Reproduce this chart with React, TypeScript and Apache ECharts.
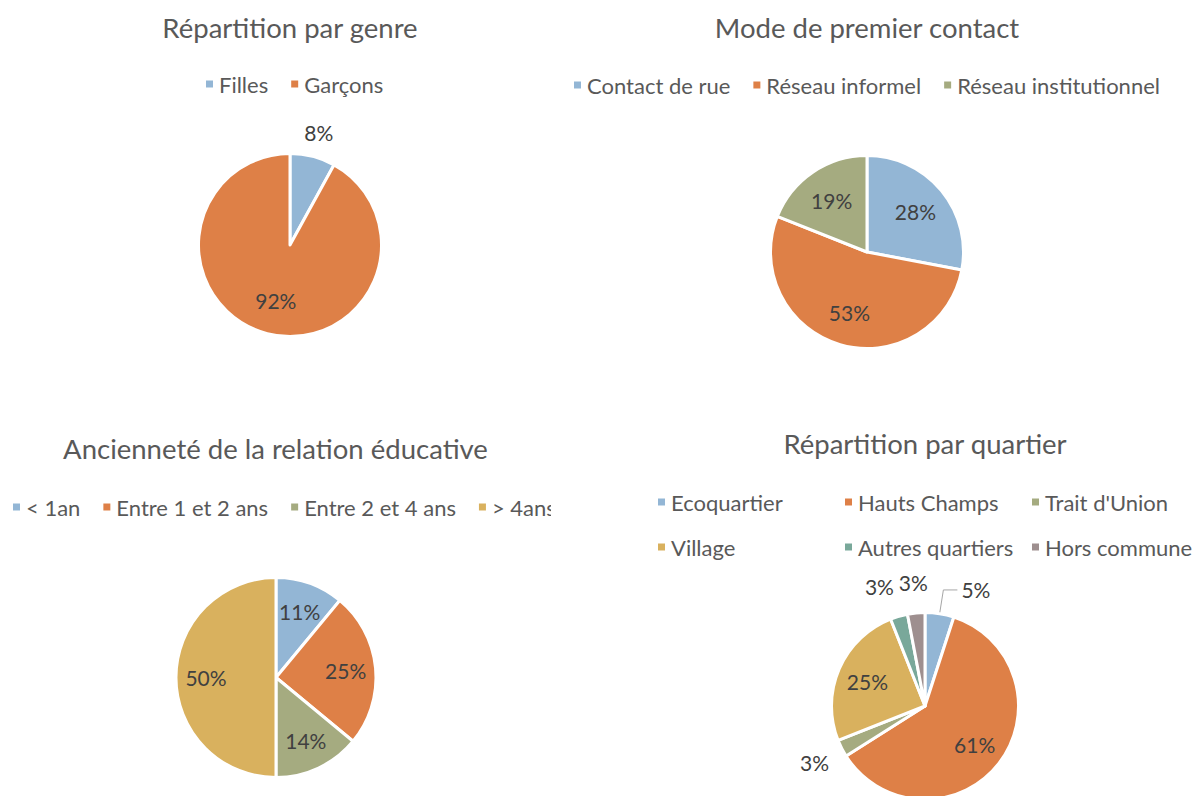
import React, { useEffect, useRef } from 'react';
import * as echarts from 'echarts';

// ---------- data ----------
const genreCategories = ['Filles', 'Garçons'];
const genreValues = [8, 92];
const genrePlacement = ['outside', 'inside'];

const contactCategories = ['Contact de rue', 'Réseau informel', 'Réseau institutionnel'];
const contactValues = [28, 53, 19];
const contactPlacement = ['inside', 'inside', 'inside'];

const ancienneteCategories = ['< 1an', 'Entre 1 et 2 ans', 'Entre 2 et 4 ans', '> 4ans'];
const ancienneteValues = [11, 25, 14, 50];
const anciennetePlacement = ['inside', 'inside', 'inside', 'inside'];

const quartierCategories = ['Ecoquartier', 'Hauts Champs', "Trait d'Union", 'Village', 'Autres quartiers', 'Hors commune'];
const quartierValues = [5, 61, 3, 25, 3, 3];
const quartierPlacement = ['leader', 'inside', 'outside', 'inside', 'outside', 'outside'];
// style: extra right padding on some outside labels (keeps neighbouring labels apart)
const quartierLabelPadRight = [0, 0, 0, 0, 22, 0];

const palette = ['#93B6D5', '#DE8047', '#A5AB80', '#D9B15E', '#79A89A', '#9E8F8F'];

const FONT = 'Lato, "Open Sans", sans-serif';
const TITLE_SIZE = 27.5;
const LEGEND_SIZE = 22;
const LABEL_SIZE = 21;

type Cfg = {
  title: string;
  titleY: number;
  categories: string[];
  values: number[];
  placement: string[];
  padRight?: number[];
  center: [number, number];
  r: number;
  innerK: number;
  outerDist: number;
  legend: any;
};

function buildOption(cfg: Cfg) {
  const { title, titleY, categories, values, placement, padRight, center, r, innerK, outerDist, legend } = cfg;
  const fmt = (p: any) => Math.round(p.percent) + '%';
  const labelFont = { fontFamily: FONT, fontSize: LABEL_SIZE, color: '#404040' };
  const base = {
    type: 'pie',
    center,
    startAngle: 90,
    clockwise: true,
    avoidLabelOverlap: false,
    silent: true,
    emphasis: { disabled: true },
  };
  const main = {
    ...base,
    radius: r + 1.5,
    itemStyle: { borderColor: '#ffffff', borderWidth: 3 },
    label: { show: false, ...labelFont, formatter: fmt, position: 'outside', distanceToLabelLine: 4 },
    labelLine: { show: false, length: 24, length2: 14, lineStyle: { color: '#A6A6A6', width: 1 } },
    data: categories.map((name, i) => ({
      name,
      value: values[i],
      itemStyle: { color: palette[i] },
      ...(placement[i] === 'leader' ? { label: { show: true }, labelLine: { show: true } } : {}),
    })),
  };
  const inner = {
    ...base,
    radius: [(2 * innerK - 1) * r, r],
    itemStyle: { color: 'rgba(0,0,0,0)', borderWidth: 0 },
    label: { show: false, ...labelFont, formatter: fmt, position: 'inside', rotate: 0 },
    labelLine: { show: false },
    data: categories.map((name, i) => ({
      name,
      value: values[i],
      label: { show: placement[i] === 'inside' },
    })),
  };
  const outer = {
    ...base,
    radius: [r, 2 * outerDist - r],
    itemStyle: { color: 'rgba(0,0,0,0)', borderWidth: 0 },
    label: { show: false, ...labelFont, formatter: fmt, position: 'inside', rotate: 0 },
    labelLine: { show: false },
    data: categories.map((name, i) => ({
      name,
      value: values[i],
      label: {
        show: placement[i] === 'outside',
        padding: [0, padRight ? padRight[i] : 0, 0, 0],
      },
    })),
  };
  return {
    animation: false,
    backgroundColor: 'transparent',
    title: {
      text: title,
      left: 'center',
      top: titleY - 16,
      padding: 0,
      textStyle: { fontFamily: FONT, fontSize: TITLE_SIZE, fontWeight: 'normal', color: '#595959', lineHeight: 32 },
    },
    legend: {
      data: categories,
      orient: 'horizontal',
      icon: 'rect',
      itemWidth: 9,
      itemHeight: 9,
      padding: 0,
      selectedMode: false,
      ...legend,
      textStyle: { fontFamily: FONT, fontSize: LEGEND_SIZE, color: '#595959', ...(legend.textStyle || {}) },
    },
    series: [main, inner, outer],
  };
}

const opt1 = buildOption({
  title: 'Répartition par genre',
  titleY: 27,
  categories: genreCategories,
  values: genreValues,
  placement: genrePlacement,
  center: [290, 245],
  r: 90,
  innerK: 0.6,
  outerDist: 113,
  legend: { left: 204, top: 72, itemGap: 21, width: 900, textStyle: { lineHeight: 24 } },
});

const opt2 = buildOption({
  title: 'Mode de premier contact',
  titleY: 27,
  categories: contactCategories,
  values: contactValues,
  placement: contactPlacement,
  center: [330, 252],
  r: 95,
  innerK: 0.63,
  outerDist: 115,
  legend: { left: 35, top: 73, itemGap: 21, width: 900, textStyle: { lineHeight: 24 } },
});

const opt3 = buildOption({
  title: 'Ancienneté de la relation éducative',
  titleY: 48,
  categories: ancienneteCategories,
  values: ancienneteValues,
  placement: anciennetePlacement,
  center: [276, 277.5],
  r: 98.5,
  innerK: 0.68,
  outerDist: 120,
  legend: { left: 11, top: 95, itemGap: 21, width: 1000, textStyle: { lineHeight: 24 } },
});

const opt4 = buildOption({
  title: 'Répartition par quartier',
  titleY: 43,
  categories: quartierCategories,
  values: quartierValues,
  placement: quartierPlacement,
  padRight: quartierLabelPadRight,
  center: [272, 306],
  r: 92,
  innerK: 0.65,
  outerDist: 121,
  legend: {
    left: 3,
    top: 83.5,
    itemGap: 8,
    width: 555,
    textStyle: { lineHeight: 37, width: 164, overflow: 'none' },
  },
});

function PieChart({ style, option }: { style: any; option: any }) {
  const ref = useRef<HTMLDivElement>(null);
  useEffect(() => {
    const chart = echarts.init(ref.current as HTMLDivElement, null, { renderer: 'svg' });
    chart.setOption(option);
    return () => chart.dispose();
  }, [option]);
  return <div ref={ref} style={{ position: 'absolute', overflow: 'hidden', ...style }} />;
}

export default function App() {
  return (
    <div style={{ position: 'fixed', left: 0, top: 0, width: 1197, height: 796, background: '#ffffff', overflow: 'hidden' }}>
      <PieChart style={{ left: 0, top: 0, width: 580, height: 400 }} option={opt1} />
      <PieChart style={{ left: 537, top: 0, width: 660, height: 400 }} option={opt2} />
      <PieChart style={{ left: 0, top: 400, width: 551, height: 396 }} option={opt3} />
      <PieChart style={{ left: 653, top: 400, width: 544, height: 396 }} option={opt4} />
    </div>
  );
}
